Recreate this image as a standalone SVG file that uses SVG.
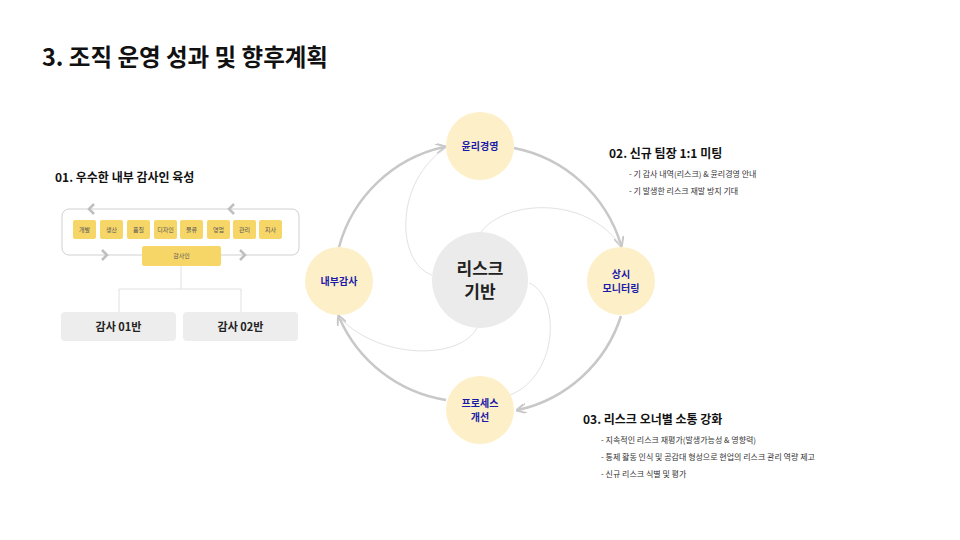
<svg xmlns="http://www.w3.org/2000/svg" width="960" height="540" viewBox="0 0 960 540">
<style>
text{font-family:"Noto Sans CJK KR","Noto Sans",sans-serif}
.h{font-size:12px;font-weight:700;fill:#111}
.s{font-size:8px;fill:#333}
.n{font-size:10px;font-weight:700;fill:#1a1aa8;text-anchor:middle}
.y{fill:#f7d668}
.yt{font-size:6px;fill:#555;text-anchor:middle}
.arc{fill:none;stroke:#c8c8c8;stroke-width:2.5}
.thin{fill:none;stroke:#e2e2e2;stroke-width:1}
.node{fill:#fdefc8}
</style>
<defs><marker id="a" viewBox="0 0 10 10" refX="8" refY="5" markerWidth="4" markerHeight="4" orient="auto"><path d="M0,0L10,5L0,10" fill="none" stroke="#c8c8c8" stroke-width="2"/></marker></defs>
<rect width="960" height="540" fill="#fff"/>
<text x="42" y="66" style="font-size:23.5px;font-weight:700;fill:#111">3. 조직 운영 성과 및 향후계획</text>
<g id="left">
<text x="55" y="182" class="h">01. 우수한 내부 감사인 육성</text>
<rect x="62" y="209" width="237" height="46" rx="7" fill="none" stroke="#d0d0d0"/>
<g fill="none" stroke="#bfbfbf" stroke-width="2.5"><path d="M94,204L89,209L94,214"/><path d="M234,204L229,209L234,214"/><path d="M102,250L107,255L102,260"/><path d="M240,250L245,255L240,260"/></g>
<g><rect class="y" x="73" y="220" width="23" height="19" rx="2"/><text class="yt" x="84.5" y="232">개발</text>
<rect class="y" x="100" y="220" width="23" height="19" rx="2"/><text class="yt" x="111.5" y="232">생산</text>
<rect class="y" x="127" y="220" width="23" height="19" rx="2"/><text class="yt" x="138.5" y="232">품질</text>
<rect class="y" x="154" y="220" width="23" height="19" rx="2"/><text class="yt" x="165.5" y="232">디자인</text>
<rect class="y" x="180" y="220" width="23" height="19" rx="2"/><text class="yt" x="191.5" y="232">물류</text>
<rect class="y" x="207" y="220" width="23" height="19" rx="2"/><text class="yt" x="218.5" y="232">영업</text>
<rect class="y" x="233" y="220" width="23" height="19" rx="2"/><text class="yt" x="244.5" y="232">관리</text>
<rect class="y" x="259" y="220" width="23" height="19" rx="2"/><text class="yt" x="270.5" y="232">지사</text></g>
<rect class="y" x="142" y="246" width="79" height="20" rx="2"/><text class="yt" x="181.5" y="258">감사인</text>
<path d="M181,266V289M119,289H241M119,289V312M241,289V312" stroke="#e0e0e0" fill="none"/>
<rect x="61" y="312" width="115" height="29" rx="4" fill="#ededed"/><text x="118.5" y="331" style="font-size:11px;font-weight:700;fill:#222;text-anchor:middle">감사 01반</text>
<rect x="183" y="312" width="115" height="29" rx="4" fill="#ededed"/><text x="240.5" y="331" style="font-size:11px;font-weight:700;fill:#222;text-anchor:middle">감사 02반</text>
</g>
<g id="connectors">
<path class="arc" d="M514,148A140,140 0 0 1 621,245" marker-end="url(#a)"/>
<path class="arc" d="M621,316A140,140 0 0 1 518,410" marker-end="url(#a)"/>
<path class="arc" d="M446,400A140,140 0 0 1 339,317" marker-end="url(#a)"/>
<path class="arc" d="M339,247A140,140 0 0 1 444,147" marker-end="url(#a)"/>
<path class="thin" d="M432,275C395,262 395,180 446,148"/>
<path class="thin" d="M481,232C505,200 585,195 620,245"/>
<path class="thin" d="M529,283C560,295 560,375 510,395"/>
<path class="thin" d="M477,328C460,360 380,360 340,318"/>
</g>
<g id="center"><circle cx="480" cy="280" r="48" fill="#ebebeb"/><text x="480" y="275" style="font-size:17px;font-weight:700;fill:#222;text-anchor:middle">리스크</text><text x="480" y="298" style="font-size:17px;font-weight:700;fill:#222;text-anchor:middle">기반</text></g>
<g id="n-top"><circle class="node" cx="480" cy="146" r="34"/><text class="n" x="480" y="150">윤리경영</text></g>
<g id="n-right"><circle class="node" cx="621" cy="281" r="34"/><text class="n" x="621" y="278">상시</text><text class="n" x="621" y="292">모니터링</text></g>
<g id="n-bottom"><circle class="node" cx="480" cy="410" r="34"/><text class="n" x="480" y="407">프로세스</text><text class="n" x="480" y="421">개선</text></g>
<g id="n-left"><circle class="node" cx="339" cy="281" r="34"/><text class="n" x="339" y="285">내부감사</text></g>
<g id="t02"><text x="609" y="158" class="h">02. 신규 팀장 1:1 미팅</text>
<text x="629" y="177" class="s">- 기 감사 내역(리스크) &amp; 윤리경영 안내</text>
<text x="629" y="194" class="s">- 기 발생한 리스크 재발 방지 기대</text></g>
<g id="t03"><text x="583" y="424" class="h">03. 리스크 오너별 소통 강화</text>
<text x="601" y="443" class="s">- 지속적인 리스크 재평가(발생가능성 &amp; 영향력)</text>
<text x="601" y="460" class="s">- 통제 활동 인식 및 공감대 형성으로 현업의 리스크 관리 역량 제고</text>
<text x="601" y="477" class="s">- 신규 리스크 식별 및 평가</text></g>
</svg>
